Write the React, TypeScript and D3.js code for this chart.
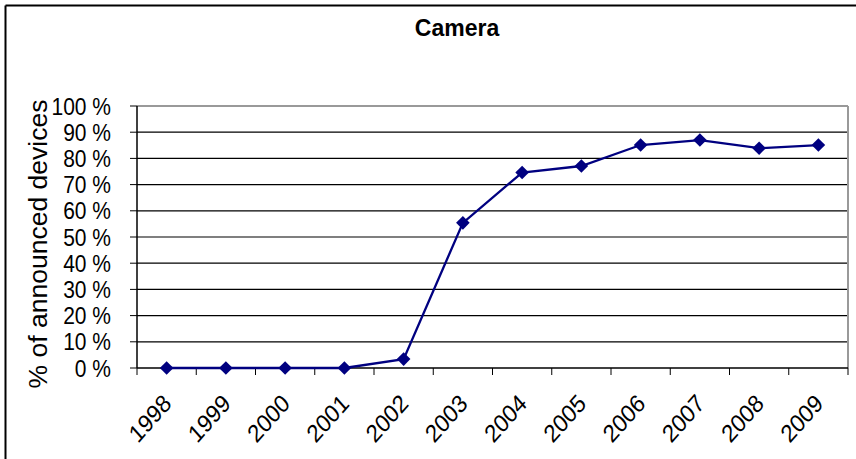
import React from "react";
import * as d3 from "d3";

const years = ["1998", "1999", "2000", "2001", "2002", "2003", "2004", "2005", "2006", "2007", "2008", "2009"];
const cameraShare = [0, 0, 0, 0, 3.4, 55.4, 74.6, 77.1, 85.1, 87.0, 83.9, 85.1];
const yTicks = [0, 10, 20, 30, 40, 50, 60, 70, 80, 90, 100];

const W = 856;
const H = 459;
const plot = { left: 137, right: 848, top: 106, bottom: 368 };
const FONT = "'Liberation Sans', Arial, sans-serif";
const STRETCH = 1.13;

export default function App() {
  const x = d3.scaleBand<string>().domain(years).range([plot.left, plot.right]).padding(0);
  const y = d3.scaleLinear().domain([0, 100]).range([plot.bottom, plot.top]);
  const cx = (yr: string) => (x(yr) as number) + x.bandwidth() / 2;

  const line = d3
    .line<number>()
    .x((_, i) => cx(years[i]))
    .y((v) => y(v));

  // square diamond marker
  const r = 6.8;
  const diamond = `M0,${-r}L${r},0L0,${r}L${-r},0Z`;
  const boundaries = years.map((yr) => x(yr) as number).concat([plot.right]);

  return (
    <div style={{ position: "absolute", left: 0, top: 0 }}>
      <svg width={W} height={H} style={{ display: "block", background: "#fff" }}>
        {/* outer frame */}
        <line x1={5.5} x2={W} y1={5.5} y2={5.5} stroke="#000" strokeWidth={2} />
        <line x1={5.5} x2={5.5} y1={5.5} y2={H} stroke="#000" strokeWidth={2} />

        <text x={457} y={36} textAnchor="middle" fontFamily={FONT} fontWeight="bold" fontSize={23} fill="#000">
          Camera
        </text>

        {/* gridlines */}
        {yTicks
          .filter((t) => t > 0 && t < 100)
          .map((t) => (
            <line key={t} x1={plot.left} x2={plot.right} y1={y(t)} y2={y(t)} stroke="#000" strokeWidth={1.2} />
          ))}

        {/* plot border (top / right) */}
        <line x1={plot.left} x2={plot.right} y1={plot.top} y2={plot.top} stroke="#999" strokeWidth={2} />
        <line x1={plot.right} x2={plot.right} y1={plot.top} y2={plot.bottom} stroke="#999" strokeWidth={2} />

        {/* y axis */}
        <line x1={plot.left} x2={plot.left} y1={plot.top} y2={plot.bottom} stroke="#000" strokeWidth={1.5} />
        {yTicks.map((t) => (
          <g key={t}>
            <line x1={plot.left - 7} x2={plot.left} y1={y(t)} y2={y(t)} stroke="#000" strokeWidth={1} />
            <text
              transform={`translate(111, ${y(t)}) scale(1, ${STRETCH})`}
              dy="0.36em"
              textAnchor="end"
              fontFamily={FONT}
              fontSize={21}
              fill="#000"
            >
              {`${t} %`}
            </text>
          </g>
        ))}

        {/* x axis */}
        <line x1={plot.left} x2={plot.right} y1={plot.bottom} y2={plot.bottom} stroke="#000" strokeWidth={1.5} />
        {boundaries.map((bx, i) => (
          <line key={i} x1={bx} x2={bx} y1={plot.bottom} y2={plot.bottom + 7} stroke="#000" strokeWidth={1} />
        ))}
        {years.map((yr) => {
          const ax = cx(yr) + 6;
          const ay = 405;
          return (
            <text
              key={yr}
              transform={`translate(${ax}, ${ay}) scale(1, ${STRETCH}) rotate(-45)`}
              textAnchor="end"
              fontFamily={FONT}
              fontSize={22}
              fill="#000"
            >
              {yr}
            </text>
          );
        })}

        <text
          transform={`translate(47, 244) rotate(-90)`}
          textAnchor="middle"
          fontFamily={FONT}
          fontSize={26.5}
          fill="#000"
        >
          % of announced devices
        </text>

        {/* series */}
        <path d={line(cameraShare) as string} fill="none" stroke="#000080" strokeWidth={2.3} />
        {cameraShare.map((v, i) => (
          <path key={i} d={diamond} transform={`translate(${cx(years[i])}, ${y(v)})`} fill="#000080" />
        ))}
      </svg>
    </div>
  );
}
